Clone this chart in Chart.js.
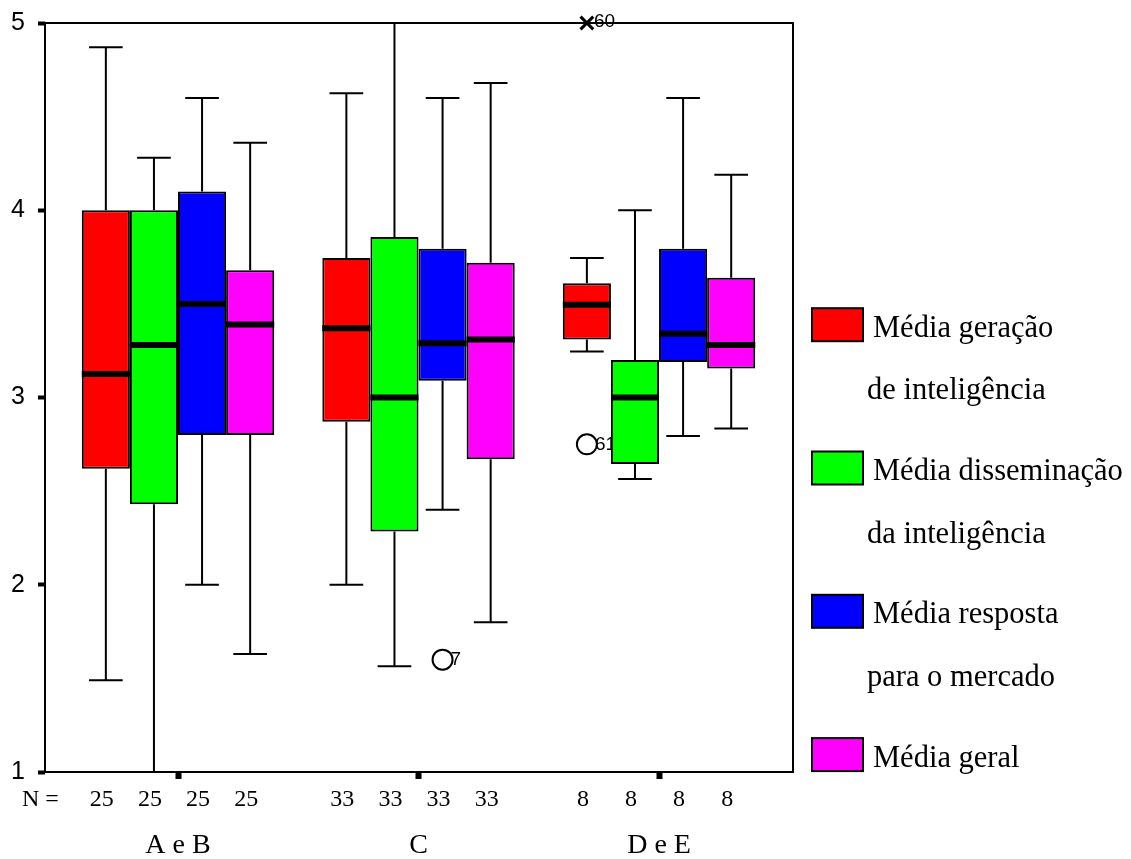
<!DOCTYPE html>
<html>
<head>
<meta charset="utf-8">
<script src="https://cdn.jsdelivr.net/npm/chart.js"></script>
<style>
  body { margin: 0; background: #fff; }
  #wrap { width: 1131px; height: 859px; }
</style>
</head>
<body>
<div id="wrap"><canvas id="boxChart" width="1131" height="859"></canvas></div>
<script>
// data
const categories = ["A e B", "C", "D e E"];
const seriesNames = [
  ["Média geração", "de inteligência"],
  ["Média disseminação", "da inteligência"],
  ["Média resposta", "para o mercado"],
  ["Média geral"],
];
const seriesColors = ["#ff0000", "#00ff00", "#0000ff", "#ff00ff"];
const counts = [25, 33, 8];
const yTicks = [1, 2, 3, 4, 5];

// [min, q1, median, q3, max] for each category
const geracao = [[1.49, 2.62, 3.125, 4.0, 4.87], [2.0, 2.87, 3.37, 3.745, 4.625], [3.245, 3.31, 3.495, 3.61, 3.745]];
const disseminacao = [[1.0, 2.43, 3.28, 4.0, 4.28], [1.565, 2.285, 3.0, 3.857, 5.0], [2.565, 2.645, 3.0, 3.2, 4.0]];
const resposta = [[2.0, 2.8, 3.5, 4.1, 4.6], [2.4, 3.09, 3.29, 3.795, 4.6], [2.795, 3.19, 3.34, 3.795, 4.6]];
const geral = [[1.63, 2.8, 3.39, 3.68, 4.36], [1.8, 2.67, 3.31, 3.72, 4.68], [2.835, 3.155, 3.28, 3.64, 4.19]];
const allStats = [geracao, disseminacao, resposta, geral];

// outliers: series index, category index, value, case number, extreme?
const outlierSeries = [2, 0, 0];
const outlierCategory = [1, 2, 2];
const outlierValues = [1.6, 2.75, 5.0];
const outlierCases = ["7", "61", "60"];
const outlierExtreme = [false, false, true];

const groupShare = 0.8;
const serif = "'Liberation Serif', 'Times New Roman', serif";
const sans = "'Liberation Sans', Arial, sans-serif";

// x position of a series box inside its category group
function boxX(cat, s) {
  return cat + 1 + (s - (allStats.length - 1) / 2) * groupShare / allStats.length;
}

const boxDatasets = allStats.map((stats, s) => ({
  type: "bar",
  label: seriesNames[s].join(" "),
  data: stats.map((st, c) => ({ x: c + 1, y: [st[1], st[3]] })),
  stats: stats,
  backgroundColor: seriesColors[s],
  borderColor: "#000",
  borderWidth: 2,
  borderSkipped: false,
  categoryPercentage: groupShare,
  barPercentage: 1.0,
}));

function outlierData(extreme) {
  const pts = [];
  outlierValues.forEach((v, i) => {
    if (outlierExtreme[i] === extreme) {
      pts.push({ x: boxX(outlierCategory[i], outlierSeries[i]), y: v, caseNo: outlierCases[i] });
    }
  });
  return pts;
}

const outlierDatasets = [
  {
    type: "scatter",
    label: "outliers",
    data: outlierData(false),
    pointStyle: "circle",
    pointRadius: 10,
    pointBorderWidth: 2,
    pointBorderColor: "#000",
    pointBackgroundColor: "rgba(0,0,0,0)",
    clip: false,
    extreme: false,
  },
  {
    type: "scatter",
    label: "extremes",
    data: outlierData(true),
    pointStyle: "crossRot",
    pointRadius: 9,
    pointBorderWidth: 3,
    pointBorderColor: "#000",
    clip: false,
    extreme: true,
  },
];

const boxPlot = {
  id: "boxPlot",
  beforeDatasetsDraw(chart) {
    // case numbers sit under the boxes, as in the original
    const c = chart.ctx;
    c.save();
    c.fillStyle = "#000";
    c.font = "19px " + sans;
    c.textBaseline = "middle";
    c.textAlign = "left";
    chart.data.datasets.forEach((ds, i) => {
      if (ds.type !== "scatter") return;
      const meta = chart.getDatasetMeta(i);
      meta.data.forEach((pt, j) => {
        const dx = ds.extreme ? 7 : 8;
        const dy = ds.extreme ? -1 : 0;
        c.fillText(ds.data[j].caseNo, pt.x + dx, pt.y + dy);
      });
    });
    c.restore();
  },
  afterDatasetsDraw(chart) {
    const c = chart.ctx;
    const y = chart.scales.y;
    c.save();
    c.strokeStyle = "#000";
    chart.data.datasets.forEach((ds, i) => {
      if (!ds.stats) return;
      const meta = chart.getDatasetMeta(i);
      meta.data.forEach((bar, j) => {
        const [mn, q1, med, q3, mx] = ds.stats[j];
        const cap = bar.width * 0.7;
        c.lineWidth = 2;
        c.beginPath();
        c.moveTo(bar.x, y.getPixelForValue(q3));
        c.lineTo(bar.x, y.getPixelForValue(mx));
        c.moveTo(bar.x - cap / 2, y.getPixelForValue(mx));
        c.lineTo(bar.x + cap / 2, y.getPixelForValue(mx));
        c.moveTo(bar.x, y.getPixelForValue(q1));
        c.lineTo(bar.x, y.getPixelForValue(mn));
        c.moveTo(bar.x - cap / 2, y.getPixelForValue(mn));
        c.lineTo(bar.x + cap / 2, y.getPixelForValue(mn));
        c.stroke();
        c.lineWidth = 6;
        c.beginPath();
        c.moveTo(bar.x - bar.width / 2, y.getPixelForValue(med));
        c.lineTo(bar.x + bar.width / 2, y.getPixelForValue(med));
        c.stroke();
      });
    });
    c.restore();
  },
  afterDraw(chart) {
    const c = chart.ctx;
    const a = chart.chartArea;
    c.save();
    // frame around the plot
    c.strokeStyle = "#000";
    c.lineWidth = 2;
    c.strokeRect(a.left, a.top, a.right - a.left, a.bottom - a.top);

    // N = row
    c.fillStyle = "#000";
    c.font = "24px " + serif;
    c.textBaseline = "alphabetic";
    c.textAlign = "left";
    c.fillText("N =", 22, 806);
    c.textAlign = "center";
    chart.data.datasets.forEach((ds, i) => {
      if (!ds.stats) return;
      chart.getDatasetMeta(i).data.forEach((bar, j) => {
        c.fillText(String(counts[j]), bar.x - 4, 806);
      });
    });

    // legend
    c.textAlign = "left";
    c.font = "30.5px " + serif;
    const step = 143.3;
    allStats.forEach((_, s) => {
      const base = 336.7 + s * step;
      c.fillStyle = seriesColors[s];
      c.fillRect(812, base - 28.5, 51, 33);
      c.lineWidth = 2;
      c.strokeRect(812, base - 28.5, 51, 33);
      c.fillStyle = "#000";
      seriesNames[s].forEach((line, k) => {
        c.fillText(line, k === 0 ? 873 : 867, base + k * 62.5);
      });
    });
    c.restore();
  },
};

const ctx = document.getElementById("boxChart").getContext("2d");

new Chart(ctx, {
  type: "bar",
  data: { datasets: [...boxDatasets, ...outlierDatasets] },
  options: {
    responsive: false,
    animation: false,
    layout: { padding: { top: 23, right: 338, left: 0, bottom: 0 } },
    scales: {
      x: {
        type: "linear",
        min: 0.447,
        max: 3.557,
        offset: false,
        afterBuildTicks: (s) => { s.ticks = categories.map((_, i) => ({ value: i + 1 })); },
        afterFit: (s) => { s.height = 87; },
        grid: { offset: false, drawOnChartArea: false, color: "#000", tickLength: 7, tickWidth: 6 },
        border: { display: false },
        ticks: {
          callback: (v) => categories[v - 1],
          color: "#000",
          font: { family: serif, size: 28 },
          padding: 50,
          maxRotation: 0,
        },
      },
      y: {
        min: 1,
        max: 5,
        afterBuildTicks: (s) => { s.ticks = yTicks.map((v) => ({ value: v })); },
        afterFit: (s) => { s.width = 45; s.paddingTop = 0; s.paddingBottom = 0; },
        grid: { drawOnChartArea: false, color: "#000", tickLength: 7, tickWidth: 4 },
        border: { display: false },
        ticks: {
          color: "#000",
          font: { family: sans, size: 25 },
          padding: 13,
        },
      },
    },
    plugins: {
      legend: { display: false },
      tooltip: { enabled: false },
    },
  },
  plugins: [boxPlot],
});
</script>
</body>
</html>
